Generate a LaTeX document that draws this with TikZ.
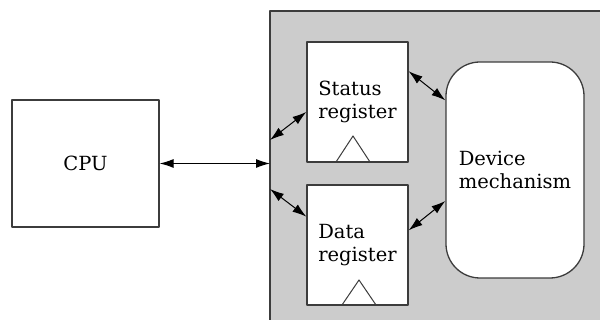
\documentclass[tikz,border=0pt]{standalone}
\usepackage{fontspec}
\setmainfont{DejaVu Serif}
\usetikzlibrary{arrows.meta}
\definecolor{panelgray}{RGB}{204,204,204}
\definecolor{edgegray}{RGB}{60,60,60}
\begin{document}
\begin{tikzpicture}[x=1pt,y=1pt,line join=round,
    font=\fontsize{19.5}{23}\selectfont,
    unit/.style={draw=edgegray,line width=1.3pt,fill=white,inner sep=0pt,align=left},
    dbl/.style={{Latex[length=14pt,width=9pt]}-{Latex[length=14pt,width=9pt]},line width=1pt}]
  \useasboundingbox (0,0) rectangle (600,320);
  % interface panel, runs off the page
  \draw[draw=edgegray,line width=1.3pt,fill=panelgray] (270,-20) rectangle (620,309);
  \coordinate (busin) at (270,156.5);
  \coordinate (tapup) at (270,180);
  \coordinate (tapdn) at (270,131);
  \node[unit,minimum width=147pt,minimum height=127pt] (cpu) at (85.5,156.5) {CPU};
  \node[unit,minimum width=101pt,minimum height=120pt] (status) at (357.5,218) {Status\\register};
  \node[unit,minimum width=101pt,minimum height=120pt] (data) at (357.5,75) {Data\\register};
  \node[unit,rounded corners=34pt,minimum width=138pt,minimum height=216pt] (mech) at (515,150) {Device\\mechanism};
  % clock marks
  \draw[edgegray,line width=1pt] (336,158) -- (353,184) -- (370,158);
  \draw[edgegray,line width=1pt] (342,15) -- (359,40) -- (376,15);
  \draw[dbl] (cpu.east) -- (busin);
  \draw[dbl] (tapup) -- (status.191);
  \draw[dbl] (tapdn) -- (data.151);
  \draw[dbl] (status.31) -- (mech.135);
  \draw[dbl] (data.16) -- (mech.204);
\end{tikzpicture}
\end{document}
